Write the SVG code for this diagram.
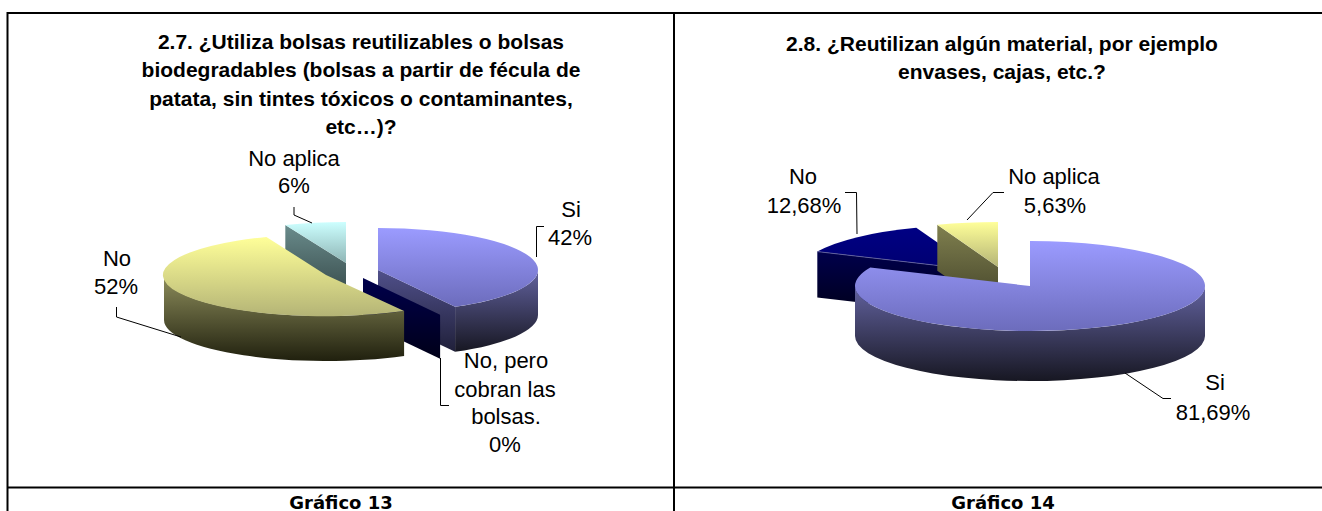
<svg xmlns="http://www.w3.org/2000/svg" width="1322" height="511" viewBox="0 0 1322 511">
<style>
.frame{stroke:#000;stroke-width:2;fill:none}
.title{font-family:"Liberation Sans",Arial,sans-serif;font-weight:bold;font-size:21px;fill:#000;text-anchor:middle}
.lbl{font-family:"Liberation Sans",Arial,sans-serif;font-size:22px;fill:#000;text-anchor:middle}
.cap{font-family:"DejaVu Sans",Verdana,sans-serif;font-weight:bold;font-size:18px;fill:#000;text-anchor:middle}
.lead{stroke:#000;stroke-width:1;fill:none}
</style>
<defs>
<linearGradient id="gSiTop" x1="0" y1="0" x2="0" y2="1"><stop offset="0" stop-color="#9b9bff"/><stop offset="1" stop-color="#6c6cbc"/></linearGradient>
<linearGradient id="gSiSide" x1="0" y1="0" x2="0" y2="1"><stop offset="0" stop-color="#62629f"/><stop offset="1" stop-color="#171722"/></linearGradient>
<linearGradient id="gSiCut" x1="0" y1="0" x2="0" y2="1"><stop offset="0" stop-color="#50508a"/><stop offset="1" stop-color="#20203a"/></linearGradient>
<linearGradient id="gYTop" x1="0" y1="0" x2="0" y2="1"><stop offset="0" stop-color="#ffff99"/><stop offset="1" stop-color="#b4b476"/></linearGradient>
<linearGradient id="gYSide" x1="0" y1="0" x2="0" y2="1"><stop offset="0" stop-color="#8e8e5c"/><stop offset="1" stop-color="#20200e"/></linearGradient>
<linearGradient id="gCyTop" x1="0" y1="0" x2="0" y2="1"><stop offset="0" stop-color="#ccffff"/><stop offset="1" stop-color="#8fb5b5"/></linearGradient>
<linearGradient id="gCyCut" x1="0" y1="0" x2="0" y2="1"><stop offset="0" stop-color="#6a8c8c"/><stop offset="1" stop-color="#2e3f3f"/></linearGradient>
<linearGradient id="gNvTop" x1="0" y1="0" x2="0" y2="1"><stop offset="0" stop-color="#000084"/><stop offset="1" stop-color="#000070"/></linearGradient>
<linearGradient id="gNvCut" x1="0" y1="0" x2="0" y2="1"><stop offset="0" stop-color="#00004c"/><stop offset="1" stop-color="#000018"/></linearGradient>
<linearGradient id="gOlCut" x1="0" y1="0" x2="0" y2="1"><stop offset="0" stop-color="#80804f"/><stop offset="1" stop-color="#3e3e26"/></linearGradient>
</defs>
<rect width="1322" height="511" fill="#fff"/>
<g id="table">
<path class="frame" d="M6.5,13 H1322 M7.5,12 V511 M674,12 V511 M6.5,487.5 H1322"/>
</g>
<g id="chart13-title">
<text class="title" x="361" y="49">2.7. ¿Utiliza bolsas reutilizables o bolsas</text>
<text class="title" x="361" y="77">biodegradables (bolsas a partir de fécula de</text>
<text class="title" x="361" y="106">patata, sin tintes tóxicos o contaminantes,</text>
<text class="title" x="361" y="134">etc…)?</text>
</g>
<g id="c13-noaplica">
<path d="M346,263 L285.3,224.9 L285.3,269.9 L346,308 Z" fill="url(#gCyCut)"/>
<path d="M346,263 L285.3,224.9 A165,41 0 0 1 346,222 Z" fill="url(#gCyTop)"/>
<text class="lbl" x="294" y="166">No aplica</text>
<text class="lbl" x="294" y="193">6%</text>
</g>
<g id="c13-si">
<path d="M538,270 A160,42 0 0 1 455.1,306.8 L455.1,351.8 A160,42 0 0 0 538,315 Z" fill="url(#gSiSide)"/>
<path d="M378,270 L455.1,306.8 L455.1,351.8 L378,315 Z" fill="url(#gSiCut)"/>
<path d="M378,270 L378,228 A160,42 0 0 1 455.1,306.8 Z" fill="url(#gSiTop)"/>
<text class="lbl" x="571" y="217">Si</text>
<text class="lbl" x="570" y="245">42%</text>
</g>
<g id="c13-nopero">
<path d="M363,278 L440.1,314.8 L440.1,358.8 L363,322 Z" fill="url(#gNvCut)"/>
<text class="lbl" x="506" y="368">No, pero</text>
<text class="lbl" x="505" y="397">cobran las</text>
<text class="lbl" x="506" y="424">bolsas.</text>
<text class="lbl" x="505" y="452">0%</text>
</g>
<g id="c13-no">
<path d="M404.1,310.9 A162,41 0 0 1 164,275 L164,320 A162,41 0 0 0 404.1,355.9 Z" fill="url(#gYSide)"/>
<path d="M326,275 L404.1,310.9 A162,41 0 1 1 266.4,236.9 Z" fill="url(#gYTop)"/>
<text class="lbl" x="117" y="266">No</text>
<text class="lbl" x="116" y="294">52%</text>
</g>
<g id="chart14-title">
<text class="title" x="1002" y="51">2.8. ¿Reutilizan algún material, por ejemplo</text>
<text class="title" x="1002" y="79">envases, cajas, etc.?</text>
</g>
<g id="c14-no">
<path d="M977,270 L817.3,251.6 L817.3,297.6 L977,316 Z" fill="url(#gNvCut)"/>
<path d="M977,270 L817.3,251.6 A175,45 0 0 1 916.3,227.8 Z" fill="url(#gNvTop)"/>
<path d="M977,270 L817.3,251.6" stroke="#6a6aa0" stroke-width="0.8" fill="none"/>
<text class="lbl" x="803" y="184">No</text>
<text class="lbl" x="804" y="213">12,68%</text>
</g>
<g id="c14-noaplica">
<path d="M998,267 L937.3,224.8 L937.3,270.8 L998,313 Z" fill="url(#gOlCut)"/>
<path d="M998,267 L937.3,224.8 A175,45 0 0 1 998,222 Z" fill="url(#gYTop)"/>
<text class="lbl" x="1054" y="184">No aplica</text>
<text class="lbl" x="1055" y="213">5,63%</text>
</g>
<g id="c14-si">
<path d="M1205,286 A175,45 0 0 1 855,286 L855,336 A175,45 0 0 0 1205,336 Z" fill="url(#gSiSide)"/>
<path d="M1030,286 L1030,241 A175,45 0 1 1 870.3,267.6 Z" fill="url(#gSiTop)"/>
<text class="lbl" x="1215" y="390">Si</text>
<text class="lbl" x="1213" y="420">81,69%</text>
</g>
<g id="connectors">
<polyline class="lead" points="294,207 294,215 312,223"/>
<polyline class="lead" points="544,226.5 536.5,226.5 536.5,257"/>
<polyline class="lead" points="116.5,307 116.5,317 181,337"/>
<polyline class="lead" points="440.5,358 440.5,405.5 449,405.5"/>
<polyline class="lead" points="845,192.5 856.5,192.5 857,234"/>
<polyline class="lead" points="1004,192.5 993,192.5 967,220"/>
<polyline class="lead" points="1125,373 1163,398.5 1171,398.5"/>
</g>
<g id="captions">
<text class="cap" x="341" y="509">Gráfico 13</text>
<text class="cap" x="1003" y="509">Gráfico 14</text>
</g>
</svg>
